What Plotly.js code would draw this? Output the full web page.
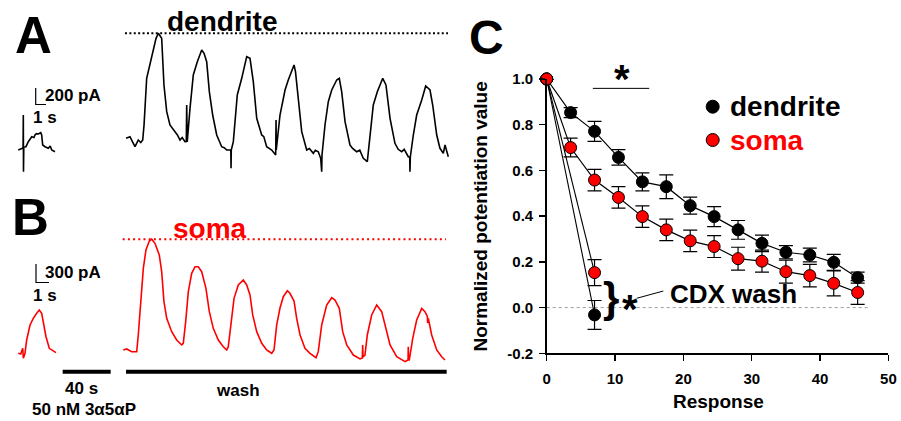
<!DOCTYPE html>
<html><head><meta charset="utf-8">
<script src="https://cdn.plot.ly/plotly-3.0.1.min.js"></script>
<style>html,body{margin:0;padding:0;background:#fff}</style>
</head><body><div id="chart" style="width:901px;height:421px"></div>
<script>
// ---------- Panel C data ----------
const responseX = [0, 3.5, 7, 10.5, 14, 17.5, 21, 24.5, 28, 31.5, 35, 38.5, 42, 45.5];
const dendriteY = [1.0, 0.853, 0.771, 0.657, 0.55, 0.529, 0.446, 0.398, 0.34, 0.281, 0.242, 0.23, 0.198, 0.131];
const dendriteErr = [0, 0.022, 0.044, 0.034, 0.039, 0.052, 0.037, 0.044, 0.041, 0.036, 0.029, 0.03, 0.035, 0.024];
const somaY = [1.0, 0.70, 0.558, 0.482, 0.398, 0.34, 0.292, 0.267, 0.214, 0.203, 0.157, 0.14, 0.106, 0.066];
const somaErr = [0, 0.041, 0.047, 0.047, 0.047, 0.047, 0.047, 0.048, 0.05, 0.048, 0.05, 0.049, 0.055, 0.052];
const cdxX = [0, 7];
const cdxDendriteY = [1.0, -0.032];
const cdxDendriteErr = [0, 0.063];
const cdxSomaY = [1.0, 0.153];
const cdxSomaErr = [0, 0.057];
const xTickVals = [0, 10, 20, 30, 40, 50];
const yTickVals = [-0.2, 0, 0.2, 0.4, 0.6, 0.8, 1.0];
const yTickText = ['-0.2', '0.0', '0.2', '0.4', '0.6', '0.8', '1.0'];

// ---------- Panel A: dendrite currents (time s, current pA) ----------
const dendPreT = [-90.6, -87.75, -86.6, -86.4, -86.25, -86, -84.2, -82.25, -79.4, -77.5, -76.7, -75.5, -73.9, -71.9, -71.1, -70.25, -68.3, -65.6, -64, -62.75, -60];
const dendPreI = [-118, -98, -94, 295, -374, -83, -79, -20, 39, 30, 59, 75, 71, 86, 59, -59, -79, -98, -70, -118, -138];
const dendT = [-0.8, 2.5, 4.5, 6.7, 9.4, 11.5, 13.1, 14.2, 16.4, 20.6, 24.2, 26.1, 27.5, 28.9, 30.8, 33.1, 35.8, 38, 40.0, 42, 44.2, 46, 48.3, 49.4, 49.75, 50.2, 52.5, 55.25, 58.6, 62.25, 64.2, 66.4, 68.6, 71.4, 74.75, 78.9, 81, 83.1, 85.8, 86.5, 86.7, 86.9, 88.6, 91.9, 95.6, 99.75, 102.5, 105.25, 108.1, 112.25, 114, 116.4, 120.6, 123.3, 123.9, 124.2, 124.4, 127.5, 131.7, 134.4, 138.1, 139.2, 140.4, 142.75, 145.6, 149.75, 152, 155.25, 157, 159.4, 161.4, 162.25, 162.5, 165, 167.75, 170.6, 174.75, 176.9, 178.9, 181.7, 185.8, 188, 191.4, 194, 196.9, 200.25, 202.5, 205.25, 208.6, 213.1, 215.8, 219.2, 223.3, 226, 228.9, 231, 234.4, 235.6, 235.8, 236.1, 238.6, 241.4, 245.6, 248.9, 252.5, 254.75, 258.1, 260.8, 263.6, 265, 267.75];
const dendI = [20, 39, -20, -79, 0, -30, 0, 177, 728, 1003, 1200, 1260, 1230, 1200, 649, 334, 177, 140, 98, 60, 0, 30, -20, -18, 413, -24, 374, 767, 924, 1062, 1023, 924, 570, 295, 59, -79, -90, -118, -118, -118, -334, -118, -20, 531, 728, 983, 964, 688, 256, 59, 40, -79, -118, -177, -177, 236, -118, 295, 590, 708, 853, 885, 806, 452, 98, -118, -100, -157, -120, -138, -216, -374, -177, 177, 452, 590, 708, 728, 570, 216, -59, -100, -138, -120, -216, -256, 20, 413, 570, 728, 649, 256, -39, -110, -138, -110, -197, -200, -374, -200, 59, 295, 472, 637, 590, 413, 59, -98, -157, -59, -197];

// ---------- Panel B: soma currents (time s, current pA) ----------
const somaPreT = [-90.6, -88.6, -86.9, -86.4, -85, -83.6, -80.8, -78.1, -75.25, -73.1, -71.1, -69.75, -67.5, -64.75, -61.9, -59.2];
const somaPreI = [-55, -67, 28, -139, -55, 167, 418, 529, 613, 668, 613, 473, 222, 28, -17, -45];
const somaT = [-3.1, -0.25, 3.9, 8.1, 9.4, 11.4, 13.6, 15.8, 18.6, 20.6, 23.3, 26.9, 28.9, 30.8, 33.1, 37.25, 41.4, 45.6, 46.9, 48.9, 51.1, 53.9, 56.7, 59.4, 62.25, 65.8, 68.6, 71.9, 76.1, 80.25, 83.1, 84.4, 86.7, 89.2, 92.75, 96.9, 99.75, 102.5, 104.75, 108.1, 112.25, 116.4, 120.6, 122.5, 124.75, 127.5, 130.25, 133.6, 135.8, 139.2, 141.4, 144.2, 148.3, 152.5, 157.5, 159.4, 162.25, 166.4, 170.6, 173.3, 176.9, 179.75, 183.1, 188.6, 194.2, 196.1, 196.4, 196.7, 198.3, 200.25, 203.9, 208.1, 212.25, 215.8, 219.2, 224.75, 231.7, 234.2, 234.4, 234.7, 235.25, 238.1, 241.4, 245.6, 248.3, 250.3, 250.5, 251.1, 253.9, 258.1, 262.25, 265];
const somaI = [0, 17, -28, -28, 251, 807, 1364, 1670, 1820, 1850, 1782, 1587, 1308, 807, 529, 306, 167, 84, 112, 473, 974, 1281, 1391, 1391, 1308, 1030, 640, 362, 167, 55, 0, 55, 473, 863, 1086, 1169, 1086, 919, 585, 306, 112, 0, -55, 0, 418, 701, 890, 990, 947, 818, 529, 251, 28, -55, -129, -28, 418, 752, 873, 835, 696, 306, 84, -84, -150, -134, 84, -117, -84, 251, 585, 752, 640, 362, 84, -112, -195, -167, 55, -167, -167, 195, 501, 696, 640, 560, 450, 529, 251, 0, -112, -167];

// ---------- layout helpers (pixel -> paper) ----------
const W = 901, H = 421;
const PX = x => x / W;
const PY = y => 1 - y / H;
const FONT = 'Liberation Sans, Arial, Helvetica, sans-serif';
const RED = '#ff0000';

const traces = [
  // Panel A
  {x: dendPreT, y: dendPreI, xaxis: 'x2', yaxis: 'y2', mode: 'lines', line: {color: '#000', width: 1.6}, hoverinfo: 'skip'},
  {x: dendT, y: dendI, xaxis: 'x2', yaxis: 'y2', mode: 'lines', line: {color: '#000', width: 1.6}, hoverinfo: 'skip'},
  // Panel B
  {x: somaPreT, y: somaPreI, xaxis: 'x3', yaxis: 'y3', mode: 'lines', line: {color: RED, width: 1.6}, hoverinfo: 'skip'},
  {x: somaT, y: somaI, xaxis: 'x3', yaxis: 'y3', mode: 'lines', line: {color: RED, width: 1.6}, hoverinfo: 'skip'},
  // Panel C: CDX wash
  {x: cdxX, y: cdxDendriteY, mode: 'lines+markers', cliponaxis: false,
   line: {color: '#000', width: 1.1},
   marker: {color: '#000', size: 12, line: {color: '#000', width: 1}},
   error_y: {type: 'data', array: cdxDendriteErr, color: '#000', thickness: 1.2, width: 7}},
  {x: cdxX, y: cdxSomaY, mode: 'lines+markers', cliponaxis: false,
   line: {color: '#000', width: 1.1},
   marker: {color: RED, size: 12, line: {color: '#000', width: 1}},
   error_y: {type: 'data', array: cdxSomaErr, color: '#000', thickness: 1.2, width: 7}},
  // Panel C: main series
  {x: responseX, y: dendriteY, mode: 'lines+markers', cliponaxis: false,
   line: {color: '#000', width: 1.2},
   marker: {color: '#000', size: 12, line: {color: '#000', width: 1}},
   error_y: {type: 'data', array: dendriteErr, color: '#000', thickness: 1.2, width: 7}},
  {x: responseX, y: somaY, mode: 'lines+markers', cliponaxis: false,
   line: {color: '#000', width: 1.2},
   marker: {color: RED, size: 12, line: {color: '#000', width: 1}},
   error_y: {type: 'data', array: somaErr, color: '#000', thickness: 1.2, width: 7}}
];

const dendPeak = Math.max(...dendI);
const somaPeak = Math.max(...somaI);

function pathPx(points) {
  return points.map((p, i) => (i ? 'L' : 'M') + PX(p[0]) + ',' + PY(p[1])).join(' ');
}
function circlePx(cx, cy, r, fill) {
  return {type: 'circle', xref: 'paper', yref: 'paper', x0: PX(cx - r), x1: PX(cx + r), y0: PY(cy + r), y1: PY(cy - r),
          fillcolor: fill, line: {color: '#000', width: 1}};
}

const shapes = [
  {type: 'line', xref: 'x2', yref: 'y2', x0: -1.7, x1: 267.5, y0: dendPeak, y1: dendPeak, line: {color: '#000', width: 2, dash: '2px,2.4px'}},
  {type: 'line', xref: 'x3', yref: 'y3', x0: -3.6, x1: 265.8, y0: somaPeak, y1: somaPeak, line: {color: RED, width: 2, dash: '2px,3.2px'}},
  {type: 'line', xref: 'x3', yref: 'paper', x0: -53.6, x1: -13.6, y0: PY(371.7), y1: PY(371.7), line: {color: '#000', width: 4}},
  {type: 'line', xref: 'x3', yref: 'paper', x0: -0.8, x1: 266.4, y0: PY(371.7), y1: PY(371.7), line: {color: '#000', width: 4}},
  {type: 'path', xref: 'paper', yref: 'paper', path: pathPx([[35.7, 88], [35.7, 104.5], [46, 104.5]]), line: {color: '#000', width: 1.2}},
  {type: 'path', xref: 'paper', yref: 'paper', path: pathPx([[36, 264], [36, 282.5], [49, 282.5]]), line: {color: '#000', width: 1.2}},
  {type: 'line', xref: 'x', yref: 'y', x0: 6.75, x1: 15, y0: 0.959, y1: 0.959, line: {color: '#000', width: 1}},
  {type: 'line', xref: 'x', yref: 'y', x0: 0, x1: 47, y0: 0, y1: 0, layer: 'below', line: {color: '#999', width: 1, dash: 'dot'}},
  {type: 'path', xref: 'paper', yref: 'paper', path: pathPx([[636.7, 298.3], [663.3, 291]]), line: {color: '#000', width: 1}},
  circlePx(712.7, 106.7, 6.5, '#000'),
  circlePx(712.7, 140, 6.5, RED)
];

function ann(text, x, y, size, opts) {
  return Object.assign({text: text, xref: 'paper', yref: 'paper', x: PX(x), y: PY(y), showarrow: false,
    xanchor: 'center', yanchor: 'middle', font: {family: FONT, size: size, color: '#000', weight: 'bold'}}, opts || {});
}

const annotations = [
  ann('A', 33.3, 35, 51),
  ann('B', 30, 218, 51),
  ann('C', 486, 37.5, 48),
  ann('dendrite', 222, 21.7, 28),
  ann('soma', 209.7, 228.3, 28, {font: {family: FONT, size: 28, color: RED, weight: 'bold'}}),
  ann('200 pA', 43, 96, 17, {xanchor: 'left'}),
  ann('1 s', 45, 117.5, 17),
  ann('300 pA', 42.5, 272, 17, {xanchor: 'left'}),
  ann('1 s', 45.3, 295.5, 17),
  ann('40 s', 81.7, 388, 17),
  ann('50 nM 3α5αP', 83.7, 409, 17),
  ann('wash', 238, 390, 17),
  ann('*', 621.7, 79, 40),
  ann('}', 611, 297, 42),
  ann('*', 629.7, 309, 40),
  ann('CDX wash', 668, 294, 26, {xanchor: 'left'}),
  ann('dendrite', 728, 107, 28, {xanchor: 'left'}),
  ann('soma', 728, 140, 28, {xanchor: 'left', font: {family: FONT, size: 28, color: RED, weight: 'bold'}}),
  ann('Response', 718, 401.7, 19),
  ann('Normalized potentiation value', 480, 216.5, 19, {textangle: -90})
];

const layout = {
  width: W, height: H,
  margin: {l: 0, r: 0, t: 0, b: 0},
  paper_bgcolor: '#fff', plot_bgcolor: 'rgba(0,0,0,0)',
  showlegend: false,
  font: {family: FONT, color: '#000'},
  xaxis: {domain: [546.7 / W, 888.4 / W], range: [0, 50], anchor: 'y', tickvals: xTickVals,
          showgrid: false, zeroline: false, showline: true, linecolor: '#000', linewidth: 1.5,
          ticks: 'outside', ticklen: 6, tickwidth: 1.5, tickcolor: '#000', ticklabelstandoff: 5,
          tickfont: {family: FONT, size: 15, color: '#000', weight: 'bold'}},
  yaxis: {domain: [1 - 353.3 / H, 1 - 79 / H], range: [-0.2, 1.0], anchor: 'x', tickvals: yTickVals, ticktext: yTickText,
          showgrid: false, zeroline: false, showline: true, linecolor: '#000', linewidth: 1.5,
          ticks: 'outside', ticklen: 6, tickwidth: 1.5, tickcolor: '#000', ticklabelstandoff: 3,
          tickfont: {family: FONT, size: 15, color: '#000', weight: 'bold'}},
  xaxis2: {domain: [0, 460 / W], range: [-127 / 1.2, 333 / 1.2], anchor: 'y2', visible: false},
  yaxis2: {domain: [1 - 180 / H, 1 - 10 / H], range: [-472, 1534], anchor: 'x2', visible: false},
  xaxis3: {domain: [0, 460 / W], range: [-127 / 1.2, 333 / 1.2], anchor: 'y3', visible: false},
  yaxis3: {domain: [1 - 380 / H, 1 - 200 / H], range: [-501, 2505], anchor: 'x3', visible: false},
  shapes: shapes,
  annotations: annotations
};

Plotly.newPlot('chart', traces, layout, {staticPlot: true, displayModeBar: false});
</script>
</body></html>
